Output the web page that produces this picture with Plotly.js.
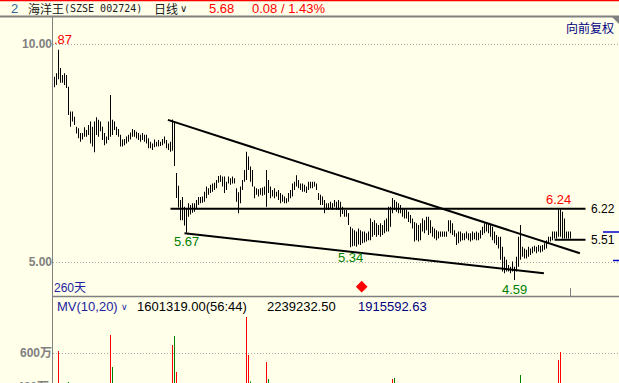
<!DOCTYPE html>
<html><head><meta charset="utf-8">
<script src="https://cdn.plot.ly/plotly-3.0.1.min.js"></script>
<style>html,body{margin:0;padding:0;background:#FFFFEA;overflow:hidden}</style>
</head><body><div id="chart" style="width:619px;height:383px"></div>
<script>
// ---- data (daily high / low, ~260 trading days) ----
const highs = [
9.25,9.33,9.87,9.45,9.29,9.33,9.29,9.02,8.45,8.45,
8.33,8.10,8.07,7.96,7.96,8.09,8.03,8.14,8.22,8.10,
8.22,8.32,8.26,8.22,8.10,7.96,7.88,8.22,8.83,8.26,
8.22,8.10,8.05,7.92,7.81,7.82,7.88,7.92,7.97,8.05,
8.03,7.99,7.96,7.92,7.96,7.92,7.92,7.84,7.76,7.72,
7.81,7.76,7.80,7.76,7.82,7.88,7.80,7.72,7.76,8.27,
8.22,7.04,6.75,6.42,6.49,6.27,6.24,6.35,6.31,6.35,
6.35,6.42,6.49,6.49,6.50,6.61,6.73,6.69,6.77,6.80,
6.82,6.88,6.97,6.99,6.96,6.96,6.84,6.96,6.92,6.96,
6.92,6.69,6.60,6.73,6.88,7.11,7.53,7.42,7.19,7.11,
6.73,6.69,6.67,6.69,6.71,6.73,7.11,6.88,6.73,6.65,
6.69,6.61,6.65,6.58,6.54,6.50,6.46,6.58,6.65,6.80,
6.84,6.99,6.88,6.80,6.80,6.77,6.73,6.84,6.84,6.84,
6.84,6.80,6.58,6.54,6.50,6.42,6.35,6.35,6.38,6.35,
6.42,6.38,6.42,6.38,6.27,6.19,6.19,6.12,5.81,5.77,
5.73,5.70,5.77,5.73,5.70,5.70,5.66,5.70,6.00,5.92,
5.96,5.89,5.85,5.89,5.85,5.96,6.00,6.27,6.27,6.47,
6.42,6.38,6.35,6.31,6.23,6.23,6.19,6.15,6.08,6.00,
5.92,5.89,5.85,5.89,6.00,5.96,6.04,6.04,5.96,5.81,
5.77,5.73,5.70,5.70,5.70,5.70,5.70,5.96,5.96,5.89,
5.73,5.66,5.70,5.70,5.66,5.66,5.70,5.66,5.66,5.70,
5.67,5.70,5.67,5.73,5.81,5.89,5.90,5.89,5.85,5.81,
5.70,5.62,5.58,5.58,5.35,5.12,5.05,4.93,4.89,5.01,
4.89,5.12,5.58,5.85,5.35,5.31,5.28,5.35,5.31,5.35,
5.37,5.35,5.39,5.37,5.39,5.43,5.50,5.58,5.58,5.70,
5.70,5.70,6.24,6.22,6.15,6.00,5.70,5.70,5.70];
const lows = [
9.01,9.06,9.19,9.11,9.11,9.06,8.99,8.37,8.10,8.22,
8.14,7.95,7.84,7.76,7.81,7.87,7.87,7.91,7.72,7.65,
7.52,7.91,7.87,8.00,7.80,7.68,7.72,7.80,7.87,7.91,
8.03,7.91,7.87,7.65,7.65,7.68,7.72,7.76,7.81,7.87,
7.87,7.83,7.80,7.76,7.80,7.76,7.72,7.61,7.61,7.57,
7.63,7.65,7.65,7.66,7.68,7.72,7.61,7.57,7.53,7.55,
7.20,6.47,6.25,5.96,5.96,5.84,5.67,6.04,6.09,6.13,
6.15,6.24,6.31,6.35,6.36,6.38,6.46,6.54,6.58,6.61,
6.65,6.69,6.82,6.84,6.73,6.58,6.65,6.80,6.77,6.80,
6.80,6.38,6.12,6.35,6.65,6.84,6.88,7.11,6.84,6.73,
6.46,6.54,6.50,6.54,6.52,6.54,6.27,6.58,6.46,6.50,
6.46,6.50,6.42,6.35,6.38,6.35,6.35,6.38,6.46,6.50,
6.65,6.73,6.69,6.65,6.61,6.61,6.58,6.65,6.69,6.69,
6.73,6.65,6.42,6.31,6.31,6.12,6.19,6.19,6.23,6.19,
6.27,6.19,6.19,6.04,6.10,6.04,6.04,5.85,5.34,5.36,
5.37,5.35,5.40,5.39,5.43,5.45,5.47,5.50,5.50,5.58,
5.62,5.58,5.62,5.58,5.62,5.66,5.70,5.70,5.81,6.12,
6.19,6.15,6.12,6.12,6.04,6.00,6.00,5.92,5.89,5.77,
5.47,5.50,5.47,5.50,5.70,5.66,5.73,5.62,5.66,5.58,
5.54,5.50,5.54,5.58,5.58,5.58,5.58,5.70,5.66,5.62,
5.58,5.39,5.43,5.47,5.50,5.50,5.54,5.50,5.47,5.50,
5.52,5.50,5.50,5.54,5.62,5.66,5.70,5.66,5.58,5.50,
5.43,5.39,5.31,5.05,4.78,4.74,4.78,4.78,4.74,4.78,
4.59,4.78,4.89,5.05,5.12,5.08,5.08,5.12,5.16,5.20,
5.24,5.20,5.24,5.22,5.24,5.28,5.31,5.43,5.47,5.50,
5.54,5.54,5.58,5.58,5.54,5.54,5.54,5.54,5.54];

// volume (万), only the spikes tall enough to be seen above 400万
const volDays   = [2,7,28,29,59,60,61,96,97,98,106,107,169,170,233,252,253];
const volValues = [613,407,720,507,653,713,473,840,587,410,540,427,427,433,453,553,607];
const volUp     = [1,0,1,0,1,0,1,1,1,0,1,0,1,0,0,1,1];

// drawn trend lines (day, price)
const upperTrendDays = [56.7, 262.7], upperTrendPrices = [8.26, 5.20];
const lowerTrendDays = [65, 244.7],   lowerTrendPrices = [5.66, 4.74];
const resistDays = [58, 265.5],       resistPrices = [6.22, 6.22];
const supportDays = [250, 265.5],     supportPrices = [5.51, 5.51];
const eventDays = [153.6];

const priceTicks = [10, 5], priceTickText = ['10.00', '5.00'];
const volTicks = [600], volTickText = ['600万'];
const volEdgeLabel = '400万';

// ---- geometry helpers (pixels -> paper) ----
const W = 619, H = 383, L = 53, T = 17, PW = W - L, PH = H - T;
const px = X => (X - L) / PW;
const py = Y => (H - Y) / PH;
const pxPerUnit = (262 - 44) / 5;
const priceAt = Y => 5 + (262 - Y) / pxPerUnit;

const days = highs.map((_, i) => i);
const BG = '#FFFFEA';

const traces = [
  {type: 'bar', x: days, base: lows, y: highs.map((h, i) => h - lows[i]), width: 0.5,
   marker: {color: '#000000', line: {width: 0}}, xaxis: 'x', yaxis: 'y', hoverinfo: 'skip'},
  {type: 'bar', x: volDays, base: 0, y: volValues, width: 0.5,
   marker: {color: volUp.map(u => u ? '#FF0000' : '#008000'), line: {width: 0}}, xaxis: 'x', yaxis: 'y2', hoverinfo: 'skip'},
  {type: 'scatter', mode: 'lines', x: upperTrendDays, y: upperTrendPrices, line: {color: '#000', width: 2}, xaxis: 'x', yaxis: 'y'},
  {type: 'scatter', mode: 'lines', x: lowerTrendDays, y: lowerTrendPrices, line: {color: '#000', width: 2}, xaxis: 'x', yaxis: 'y'},
  {type: 'scatter', mode: 'lines', x: resistDays, y: resistPrices, line: {color: '#000', width: 2}, xaxis: 'x', yaxis: 'y'},
  {type: 'scatter', mode: 'lines', x: supportDays, y: supportPrices, line: {color: '#000', width: 2}, xaxis: 'x', yaxis: 'y'},
  {type: 'scatter', mode: 'markers', x: eventDays, y: eventDays.map(() => priceAt(286.7)),
   marker: {symbol: 'diamond', size: 9, color: '#FF0000', line: {width: 0}}, xaxis: 'x', yaxis: 'y'}
];

const tickFont = {family: 'Liberation Sans, Noto Sans CJK SC', size: 12, color: '#808080', weight: 'bold'};
const ann = (text, X, Y, opts) => Object.assign({
  text, xref: 'paper', yref: 'paper', x: px(X), y: py(Y), showarrow: false,
  xanchor: 'left', yanchor: 'middle', borderpad: 0,
  font: {family: 'Liberation Sans, Noto Sans CJK SC', size: 13, color: '#000'}
}, opts || {});

const annotations = [
  ann('2', 10, 8, {font: {family: 'Liberation Sans', size: 13, color: '#336699'}}),
  ann('海洋王', 27, 8, {font: {family: 'Noto Sans CJK SC', size: 12, color: '#202020'}}),
  ann('(SZSE 002724)', 63, 8, {font: {family: 'DejaVu Sans Mono', size: 10, color: '#202020'}}),
  ann('日线', 153, 8, {font: {family: 'Noto Sans CJK SC', size: 12, color: '#202020'}}),
  ann('∨', 179, 8, {font: {family: 'DejaVu Sans', size: 10, color: '#202020'}}),
  ann('5.68', 208, 8, {font: {family: 'Liberation Sans', size: 13, color: '#FF0000'}}),
  ann('0.08 / 1.43%', 251, 8, {font: {family: 'Liberation Sans', size: 13, color: '#FF0000'}}),
  ann('向前复权', 565, 27, {font: {family: 'Noto Sans CJK SC', size: 12, color: '#000080'}}),
  ann('.87', 53, 40, {font: {family: 'Liberation Sans', size: 13, color: '#FF0000'}}),
  ann('6.22', 590, 209, {font: {family: 'Liberation Sans', size: 12, color: '#000'}}),
  ann('5.51', 590, 240, {font: {family: 'Liberation Sans', size: 12, color: '#000'}}),
  ann('6.24', 558.5, 199, {xanchor: 'center', font: {family: 'Liberation Sans', size: 13, color: '#FF0000'}}),
  ann('4.59', 514.5, 289, {xanchor: 'center', font: {family: 'Liberation Sans', size: 13, color: '#008000'}}),
  ann('5.67', 186.5, 241, {xanchor: 'center', font: {family: 'Liberation Sans', size: 13, color: '#008000'}}),
  ann('5.34', 350.5, 257, {xanchor: 'center', font: {family: 'Liberation Sans', size: 13, color: '#008000'}}),
  ann('260天', 53, 288, {font: {family: 'Liberation Sans, Noto Sans CJK SC', size: 12, color: '#2323A0'}}),
  ann('MV(10,20)', 56, 306, {font: {family: 'Liberation Sans', size: 13, color: '#2323A0'}}),
  ann('∨', 120, 307, {font: {family: 'DejaVu Sans', size: 9, color: '#2323A0'}}),
  ann('1601319.00(56:44)', 136, 306, {font: {family: 'Liberation Sans', size: 13, color: '#000'}}),
  ann('2239232.50', 266, 306, {font: {family: 'Liberation Sans', size: 13, color: '#000'}}),
  ann('1915592.63', 357, 306, {font: {family: 'Liberation Sans', size: 13, color: '#000080'}}),
  ann(volEdgeLabel, 50, 387, {xanchor: 'right', font: tickFont})
];

const line = (X0, Y0, X1, Y1, color, width) => ({type: 'line', xref: 'paper', yref: 'paper',
  x0: px(X0), y0: py(Y0), x1: px(X1), y1: py(Y1), line: {color, width}, layer: 'above'});

const shapes = [
  line(0, 0.5, 619, 0.5, '#FF0000', 1.5),
  line(0, 16.5, 619, 16.5, '#808080', 2),
  line(52.5, 17, 52.5, 383, '#808080', 1),
  line(53, 296.5, 619, 296.5, '#808080', 1.5),
  line(570.5, 288, 570.5, 296, '#808080', 1),
  line(603, 232, 619, 232, '#0000CC', 1.5),
  line(613, 260.5, 619, 260.5, '#0000CC', 1.5),
  {type: 'path', xref: 'paper', yref: 'paper', layer: 'above',
   path: `M ${px(612)} ${py(17)} L ${px(619)} ${py(17)} L ${px(619)} ${py(24)} Z`,
   fillcolor: '#808080', line: {width: 0}}
];

const split = py(296);
const priceRange = [priceAt(296), priceAt(17)];
const volPxPer = 30 / 200;
const volRange = [400, 400 + (383 - 296) / volPxPer];

const layout = {
  width: W, height: H,
  margin: {l: L, r: 0, t: T, b: 0, pad: 0},
  paper_bgcolor: BG, plot_bgcolor: BG,
  showlegend: false, hovermode: false, barmode: 'overlay',
  xaxis: {range: [-0.75, 282.25], visible: false, fixedrange: true},
  yaxis: {domain: [split, 1], range: priceRange, tickvals: priceTicks, ticktext: priceTickText,
    showgrid: true, gridcolor: '#A8A8A8', griddash: '1px,2px', gridwidth: 1,
    zeroline: false, showline: false, ticks: '', tickfont: tickFont, fixedrange: true},
  yaxis2: {domain: [0, split], range: volRange, tickvals: volTicks, ticktext: volTickText,
    showgrid: true, gridcolor: '#A8A8A8', griddash: '1px,2px', gridwidth: 1,
    zeroline: false, showline: false, ticks: '', tickfont: tickFont, fixedrange: true, anchor: 'x'},
  annotations, shapes
};

Plotly.newPlot('chart', traces, layout, {displayModeBar: false, responsive: false});
</script></body></html>
